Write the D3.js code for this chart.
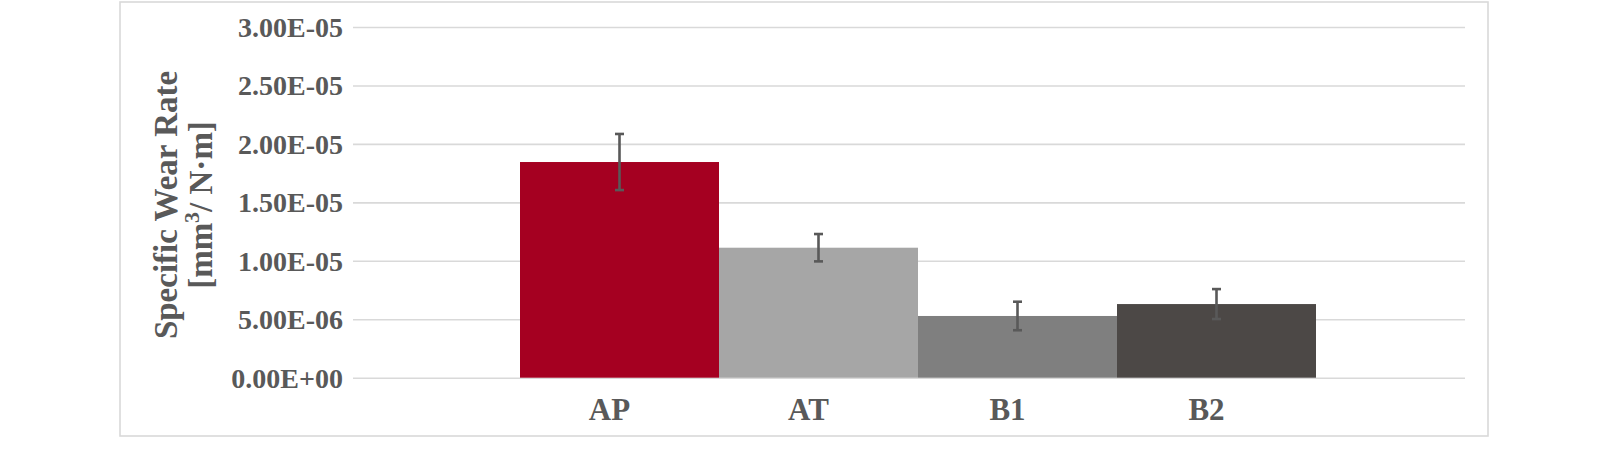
<!DOCTYPE html>
<html>
<head>
<meta charset="utf-8">
<script src="https://cdn.jsdelivr.net/npm/d3@7"></script>
<style>
  html, body { margin: 0; padding: 0; background: #ffffff; }
  svg { display: block; }
  text { font-family: "Liberation Serif", "Times New Roman", serif; font-weight: bold; fill: #595959; }
</style>
</head>
<body>
<svg id="chart" width="1616" height="449"></svg>
<script>
// ---- data ----
const categories = ["AP", "AT", "B1", "B2"];
const wearRate   = [1.845e-5, 1.112e-5, 5.28e-6, 6.30e-6];
const wearError  = [2.4e-6, 1.17e-6, 1.22e-6, 1.28e-6];
const barColors  = ["#A50021", "#A6A6A6", "#7F7F7F", "#4C4846"];
const yTickValues = [0, 5e-6, 1e-5, 1.5e-5, 2e-5, 2.5e-5, 3e-5];
const yTickLabels = ["0.00E+00", "5.00E-06", "1.00E-05", "1.50E-05", "2.00E-05", "2.50E-05", "3.00E-05"];

// ---- layout ----
const svg = d3.select("#chart");
const frame = { x: 120, y: 2, w: 1368, h: 434 };
const plot = { left: 353, right: 1465, top: 27, bottom: 377.7 };
const barsLeft = 520, barsRight = 1316;

// outer border
svg.append("rect")
  .attr("x", frame.x).attr("y", frame.y)
  .attr("width", frame.w).attr("height", frame.h)
  .attr("fill", "#fff").attr("stroke", "#D9D9D9").attr("stroke-width", 1.6);

const y = d3.scaleLinear().domain([0, 3e-5]).range([plot.bottom, plot.top]);
const x = d3.scaleBand().domain(categories).range([barsLeft, barsRight]).padding(0);

// gridlines + tick labels
const yAxis = d3.axisLeft(y)
  .tickValues(yTickValues)
  .tickSize(-(plot.right - plot.left))
  .tickPadding(10)
  .tickFormat((d, i) => yTickLabels[i]);

const gy = svg.append("g")
  .attr("transform", `translate(${plot.left},0)`)
  .call(yAxis);
gy.select(".domain").remove();
gy.selectAll(".tick line").attr("stroke", "#D9D9D9").attr("stroke-width", 1.6);
gy.selectAll(".tick text")
  .attr("x", -10)
  .attr("dy", "0.34em")
  .style("font-size", "28px")
  .style("font-family", "'Liberation Serif', 'Times New Roman', serif")
  .style("font-weight", "bold")
  .attr("fill", "#595959");

// bars
svg.append("g").selectAll("rect")
  .data(categories)
  .join("rect")
  .attr("x", d => x(d))
  .attr("width", x.bandwidth())
  .attr("y", (d, i) => y(wearRate[i]))
  .attr("height", (d, i) => y(0) - y(wearRate[i]))
  .attr("fill", (d, i) => barColors[i]);

// error bars
const eb = svg.append("g").attr("stroke", "#595959").attr("stroke-width", 2.6);
categories.forEach((c, i) => {
  const cx = x(c) + x.bandwidth() / 2;
  const hi = y(wearRate[i] + wearError[i]);
  const lo = y(wearRate[i] - wearError[i]);
  eb.append("line").attr("x1", cx).attr("x2", cx).attr("y1", hi).attr("y2", lo);
  eb.append("line").attr("x1", cx - 4.5).attr("x2", cx + 4.5).attr("y1", hi).attr("y2", hi);
  eb.append("line").attr("x1", cx - 4.5).attr("x2", cx + 4.5).attr("y1", lo).attr("y2", lo);
});

// category labels
svg.append("g").selectAll("text")
  .data(categories)
  .join("text")
  .attr("x", d => x(d) + x.bandwidth() / 2 - 10)
  .attr("y", 420)
  .attr("text-anchor", "middle")
  .style("font-size", "31px")
  .text(d => d);

// y axis title
const title = svg.append("text")
  .attr("transform", `translate(177,205) rotate(-90)`)
  .attr("text-anchor", "middle")
  .style("font-size", "33px");
title.append("tspan").attr("x", 0).attr("dy", 0).text("Specific Wear Rate");
const t2 = title.append("tspan").attr("x", 0).attr("dy", 35);
t2.append("tspan").text("[mm");
t2.append("tspan").attr("dy", -13).style("font-size", "22px").text("3");
t2.append("tspan").attr("dy", 13).text("/ N·m]");
</script>
</body>
</html>
